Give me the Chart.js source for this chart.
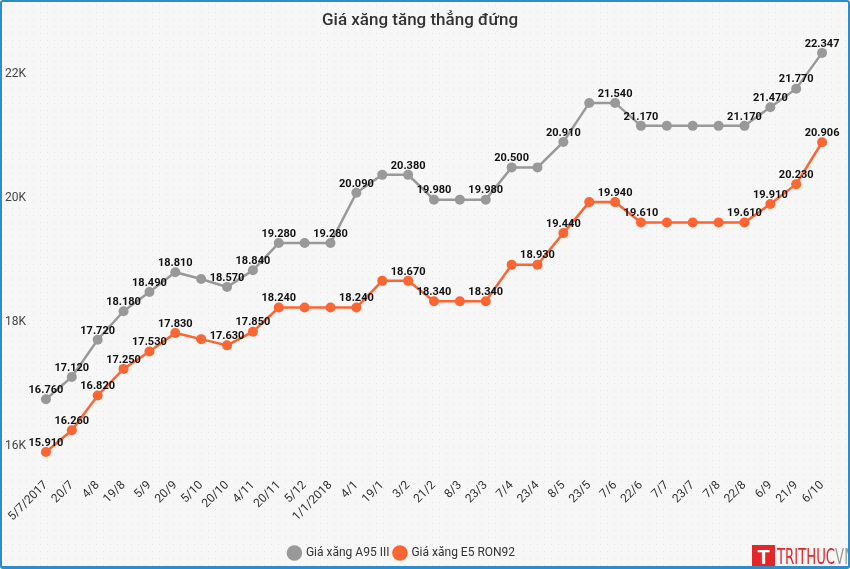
<!DOCTYPE html>
<html lang="vi">
<head>
    <meta charset="UTF-8">
    <title>Giá xăng tăng thẳng đứng</title>
    <style>
        body { margin: 0; background: #fff; }
        #wrap {
            position: relative;
            width: 850px; height: 569px;
            box-sizing: border-box;
            border: 2px solid #2e8ccb;
            border-bottom-width: 3px;
            border-radius: 3px;
            background-color: #f7f7f7;
            background-image: radial-gradient(#e4e4e4 0.7px, transparent 1px);
            background-size: 7px 7px;
            overflow: hidden;
        }
        #logo {
            position: absolute; left: 750px; top: 543px;
            height: 24px; white-space: nowrap;
            font-family: "Liberation Sans Narrow", "DejaVu Sans Condensed", sans-serif;
        }
        #logo .box {
            display: inline-block; width: 23px; height: 24px;
            background: #e4262b; color: #fff; text-align: center;
            font: bold 20px "Liberation Sans", sans-serif; line-height: 24px;
            vertical-align: top;
        }
        #logo .txt {
            display: inline-block; font-size: 21px; line-height: 24px;
            color: #e4262b; vertical-align: top; margin-left: 2px;
            transform: scaleX(0.7); transform-origin: left;
        }
        #logo .txt span { color: #999; }
    </style>
</head>
<body>
    <div id="wrap">
        <canvas id="myChart"></canvas>
        <div id="logo"><span class="box">T</span><span class="txt">TRITHUC<span>VN</span></span></div>
    </div>

    <script src="https://cdn.jsdelivr.net/npm/chart.js"></script>

    <script>
        const ctx = document.getElementById('myChart');

        // Ngày điều chỉnh giá
        const dates = ['5/7/2017', '20/7', '4/8', '19/8', '5/9', '20/9', '5/10', '20/10', '4/11', '20/11',
            '5/12', '1/1/2018', '4/1', '19/1', '3/2', '21/2', '8/3', '23/3', '7/4', '23/4', '8/5',
            '23/5', '7/6', '22/6', '7/7', '23/7', '7/8', '22/8', '6/9', '21/9', '6/10'];

        // Giá xăng A95 III (đồng/lít)
        const a95 = [16760, 17120, 17720, 18180, 18490, 18810, 18700, 18570, 18840, 19280,
            19280, 19280, 20090, 20380, 20380, 19980, 19980, 19980, 20500, 20500, 20910,
            21540, 21540, 21170, 21170, 21170, 21170, 21170, 21470, 21770, 22347];

        // Giá xăng E5 RON92 (đồng/lít)
        const e5 = [15910, 16260, 16820, 17250, 17530, 17830, 17730, 17630, 17850, 18240,
            18240, 18240, 18240, 18670, 18670, 18340, 18340, 18340, 18930, 18930, 19440,
            19940, 19940, 19610, 19610, 19610, 19610, 19610, 19910, 20230, 20906];

        // Điểm có hiện nhãn số
        const a95Labels = [0, 1, 2, 3, 4, 5, 7, 8, 9, 11, 12, 14, 15, 17, 18, 20, 22, 23, 27, 28, 29, 30];
        const e5Labels = [0, 1, 2, 3, 4, 5, 7, 8, 9, 12, 14, 15, 17, 19, 20, 22, 23, 27, 28, 29, 30];

        const yTicks = [16000, 18000, 20000, 22000];

        const fmt = v => String(v).replace(/\B(?=(\d{3})+(?!\d))/g, '.');

        // ve nhan gia tri tren diem
        const valueLabels = {
            id: 'valueLabels',
            afterLayout(chart) {
                // chu thich lech trai / xuong mot chut nhu ban goc
                const lg = chart.legend;
                lg.left -= 18; lg.right -= 18;
                lg.top += 3; lg.bottom += 3;
            },
            afterDatasetsDraw(chart) {
                const c = chart.ctx;
                c.save();
                c.font = 'bold 11px Roboto';
                c.fillStyle = '#111';
                c.textAlign = 'center';
                c.textBaseline = 'middle';
                chart.data.datasets.forEach((ds, i) => {
                    const meta = chart.getDatasetMeta(i);
                    ds.showLabels.forEach(idx => {
                        const pt = meta.data[idx];
                        c.fillText(fmt(ds.data[idx]), pt.x, pt.y - 9);
                    });
                });
                c.restore();
            }
        };

        Chart.defaults.font.family = 'Roboto';

        new Chart(ctx, {
            type: 'line',
            data: {
                labels: dates,
                datasets: [{
                    label: 'Giá xăng A95 III',
                    data: a95,
                    showLabels: a95Labels,
                    borderColor: '#999999',
                    backgroundColor: '#999999',
                    borderWidth: 2.5,
                    pointRadius: 5,
                    pointBorderWidth: 0,
                    pointHoverRadius: 5,
                    fill: false,
                },
                {
                    label: 'Giá xăng E5 RON92',
                    data: e5,
                    showLabels: e5Labels,
                    borderColor: '#fd6533',
                    backgroundColor: '#fd6533',
                    borderWidth: 2.5,
                    pointRadius: 5,
                    pointBorderWidth: 0,
                    pointHoverRadius: 5,
                    fill: false,
                }]
            },
            plugins: [valueLabels],
            options: {
                responsive: true,
                maintainAspectRatio: false,
                animation: false,
                layout: { padding: { left: 3, right: 13, top: 0, bottom: 0 } },
                plugins: {
                    title: {
                        display: true,
                        text: 'Giá xăng tăng thẳng đứng',
                        color: '#333',
                        font: { size: 17, weight: '500' },
                        padding: { top: 8.5, bottom: 12.5 }
                    },
                    legend: {
                        position: 'bottom',
                        labels: {
                            usePointStyle: true,
                            pointStyle: 'circle',
                            boxWidth: 11,
                            boxHeight: 11,
                            color: '#333',
                            font: { size: 12 },
                            padding: 5
                        }
                    },
                    tooltip: { enabled: false }
                },
                scales: {
                    x: {
                        offset: true,
                        grid: { display: false, drawTicks: false },
                        border: { display: false },
                        afterFit: axis => { axis.height += 8; axis.paddingLeft = 0; },
                        ticks: {
                            autoSkip: false,
                            minRotation: 45,
                            maxRotation: 45,
                            color: '#333',
                            font: { size: 12 },
                            padding: 7
                        }
                    },
                    y: {
                        min: 15600,
                        max: 22500,
                        grid: { display: false, drawTicks: false },
                        border: { display: false },
                        afterBuildTicks: axis => { axis.ticks = yTicks.map(v => ({ value: v })); },
                        afterFit: axis => { axis.width = 28; },
                        ticks: {
                            color: '#444',
                            font: { size: 12 },
                            padding: 7,
                            callback: v => (v / 1000) + 'K'
                        }
                    }
                }
            }
        });
    </script>
</body>
</html>
